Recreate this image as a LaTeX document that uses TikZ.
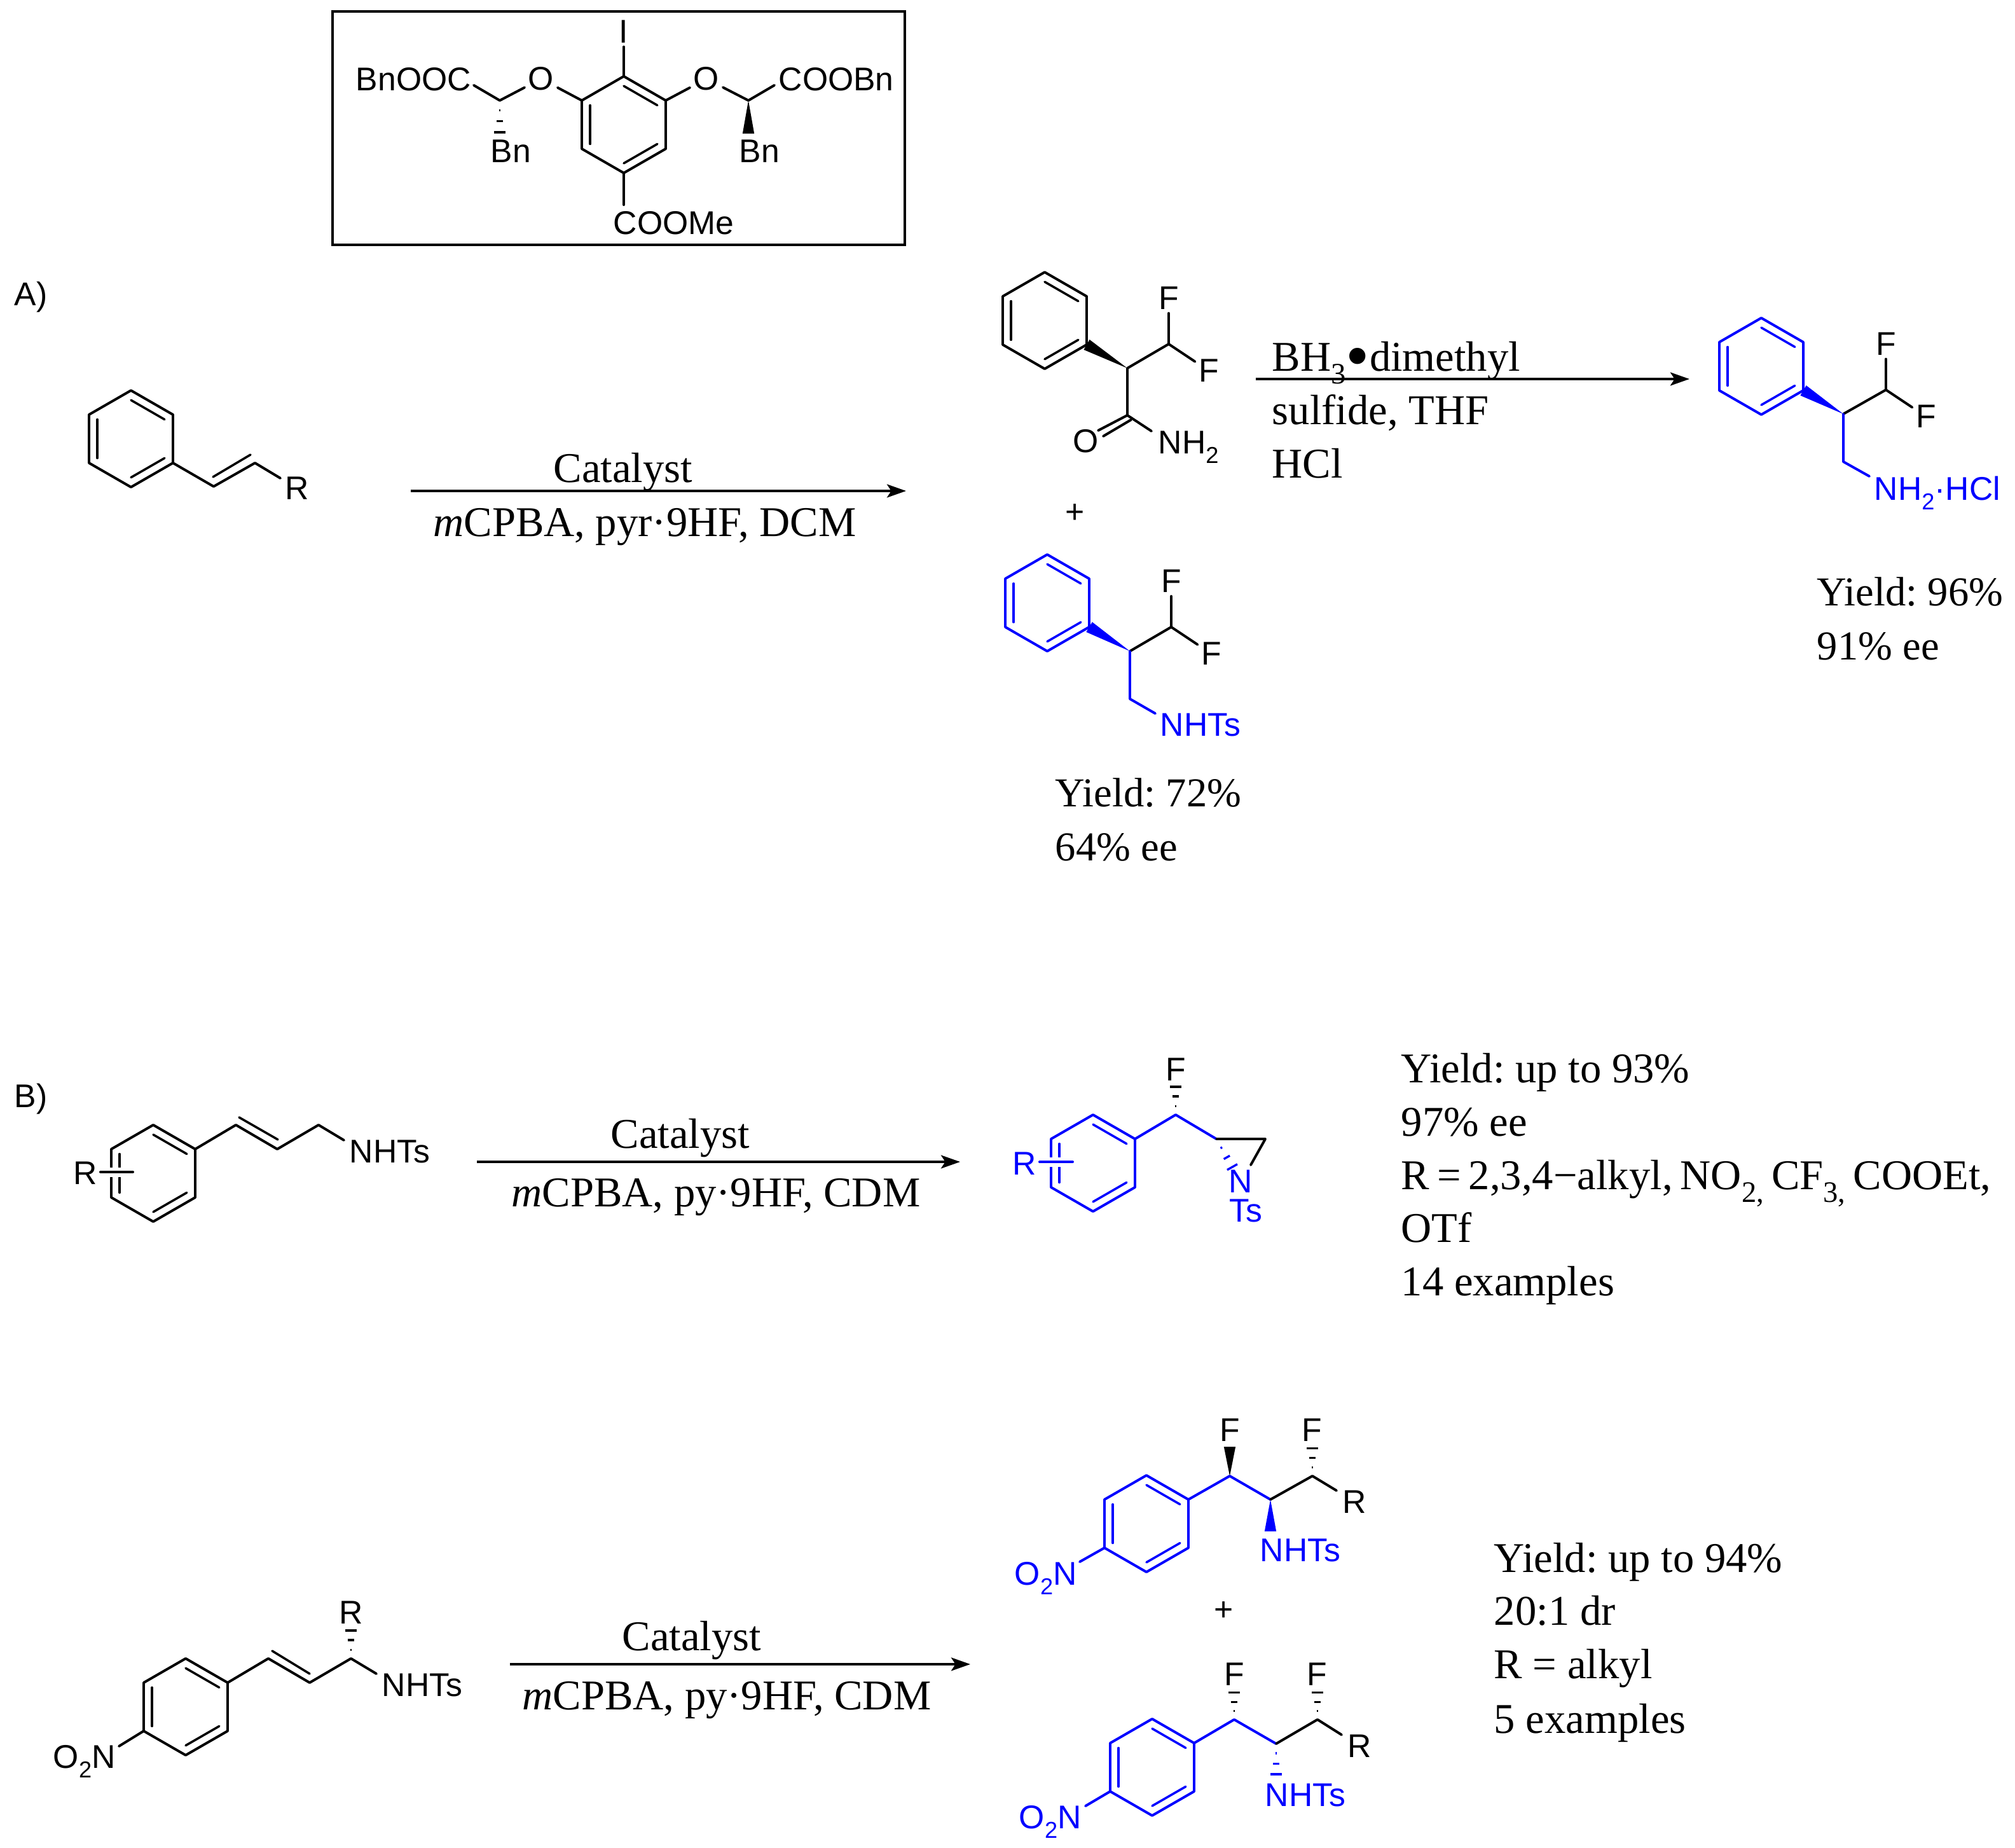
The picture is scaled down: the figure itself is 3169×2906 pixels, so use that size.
\documentclass[tikz,border=0pt]{standalone}
\usepackage{fontspec}
\setmainfont{Liberation Serif}
\setsansfont{Liberation Sans}
\usetikzlibrary{calc,arrows.meta}
\frenchspacing
\tikzset{
  bond/.style = {line width=.95pt, line join=round, line cap=round},
  inbond/.style = {line width=.85pt, line cap=round},
  atom/.style = {font=\sffamily\fontsize{12.4}{14}\selectfont, inner sep=1.2pt},
  atomtext/.style = {atom, inner sep=0pt, anchor=base west},
  rtext/.style = {font=\fontsize{16}{18}\selectfont, inner sep=0pt, anchor=base west},
  rshort/.style = {rtext, font=\fontsize{15.5}{18}\selectfont},
  rcenter/.style = {rtext, anchor=base},
  rxnarrow/.style = {line width=.95pt, -{Stealth[length=7.2pt, width=5pt, inset=1.6pt]}},
  sidetag/.style = {font=\sffamily\fontsize{12.4}{14}\selectfont, inner sep=0pt, anchor=base west}
}
\newcommand{\lowsub}[1]{\raisebox{-.3em}{\scalebox{.7}{#1}}}
\newcommand{\bigdot}{\raisebox{-.18em}{\scalebox{1.6}{•}}}
\newcommand{\phring}[4][black]{
  \coordinate (#2c) at (#3,#4);
  \foreach \idx/\dx/\dy in {1/0/-76, 2/66/-38, 3/66/38, 4/0/76, 5/-66/38, 6/-66/-38}
    \coordinate (#2\idx) at (#3+\dx,#4+\dy);
  \draw [bond, #1] (#21) -- (#22) -- (#23) -- (#24) -- (#25) -- (#26) -- cycle;
  \draw [inbond, #1] ($(#21)!.2!(#2c)$) -- ($(#22)!.2!(#2c)$);
  \draw [inbond, #1] ($(#23)!.2!(#2c)$) -- ($(#24)!.2!(#2c)$);
  \draw [inbond, #1] ($(#25)!.2!(#2c)$) -- ($(#26)!.2!(#2c)$);
}
\newcommand{\wedgebond}[3][black]{
  \fill [#1] (#2) -- ($(#3)!2.2pt!90:(#2)$) -- ($(#3)!2.2pt!-90:(#2)$) -- cycle;
}
\newcommand{\hashbond}[3][black]{
  \foreach \pos/\half in {.3/.35pt, .63/1.3pt, .96/2.2pt}
    \draw [#1, line width=.8pt] ($(#2)!\pos!(#3)!\half!90:(#3)$) -- ($(#2)!\pos!(#3)!\half!-90:(#3)$);
}
\begin{document}
\begin{tikzpicture}[x=.24pt, y=-.24pt]
\useasboundingbox (0,0) rectangle (3169,2906);

\draw [line width=1pt] (523,18) rectangle (1423,385);
\phring{cat}{981}{196}
\node [atom] (iod) at (981,50) {I};
\node [atom] (ol) at (851,124) {O};
\node [atom] (or) at (1111,124) {O};
\node [atomtext] (bnooc) at (559,142) {BnOOC};
\node [atomtext] (coobn) at (1224,142) {COOBn};
\node [atomtext] (bnl) at (771,255) {Bn};
\node [atomtext] (bnr) at (1162,255) {Bn};
\node [atomtext] (coome) at (964,368) {COOMe};
\coordinate (chl) at (786,158);
\coordinate (chr) at (1177,158);
\coordinate (endl) at (745,134);
\coordinate (endr) at (1218,134);
\coordinate (hashl) at (786,210);
\coordinate (wedger) at (1177,210);
\coordinate (endm) at (981,322);
\draw [bond] (cat1) -- (iod);
\draw [bond] (cat6) -- (ol);
\draw [bond] (cat2) -- (or);
\draw [bond] (ol) -- (chl) -- (endl);
\draw [bond] (or) -- (chr) -- (endr);
\draw [bond] (cat4) -- (endm);
\hashbond{chl}{hashl}
\wedgebond{chr}{wedger}

\node [sidetag] (taga) at (22,480) {A)};
\node [sidetag] (tagb) at (22,1741) {B)};

\phring{sty}{206}{690}
\coordinate (va) at (336,765);
\coordinate (vb) at (401,728);
\coordinate (vc) at (335,750);
\coordinate (vd) at (394,715);
\coordinate (ve) at (441,752);
\node [atom, inner sep=0pt] (rsty) at (467,768) {R};
\draw [bond] (sty3) -- (va) -- (vb) -- (ve);
\draw [inbond] (vc) -- (vd);

\coordinate (ara) at (646,772);
\coordinate (arb) at (1425,772);
\draw [rxnarrow] (ara) -- (arb);
\node [rcenter] (cata) at (980,758) {Catalyst};
\node [rcenter] (reaga) at (1014,843) {\textit{m}CPBA, pyr·9HF, DCM};

\phring{pa}{1643}{504}
\coordinate (pas) at (1773,579);
\coordinate (pac) at (1838,541);
\coordinate (pad) at (1773,653);
\coordinate (pao) at (1727,677);
\coordinate (pap) at (1779,660);
\coordinate (paq) at (1735,686);
\coordinate (pan) at (1811,678);
\node [atom] (pf1) at (1838,469) {F};
\node [atom] (pf2) at (1901,583) {F};
\node [atom, inner sep=0pt] (poxy) at (1708,694) {O};
\node [atomtext] (pnh) at (1821,713) {NH\lowsub{2}};
\wedgebond{pas}{pa3}
\draw [bond] (pas) -- (pac);
\draw [bond] (pac) -- (pf1);
\draw [bond] (pac) -- (pf2);
\draw [bond] (pas) -- (pad) -- (pan);
\draw [bond] (pad) -- (pao);
\draw [bond] (pap) -- (paq);
\node [atom] (pplus) at (1691,808) {+};

\phring[blue]{pb}{1647}{948}
\coordinate (pbs) at (1777,1024);
\coordinate (pbc) at (1842,986);
\coordinate (pbd) at (1777,1099);
\coordinate (pbe) at (1817,1122);
\node [atom] (pbf1) at (1842,914) {F};
\node [atom] (pbf2) at (1905,1028) {F};
\node [atomtext, blue] (pbn) at (1824,1157) {NHTs};
\wedgebond[blue]{pbs}{pb3}
\draw [bond] (pbs) -- (pbc);
\draw [bond] (pbc) -- (pbf1);
\draw [bond] (pbc) -- (pbf2);
\draw [bond, blue] (pbs) -- (pbd) -- (pbe);
\node [rshort] (ya) at (1659,1268) {Yield: 72\%};
\node [rshort] (ea) at (1659,1353) {64\% ee};

\coordinate (arc) at (1975,596);
\coordinate (ard) at (2657,596);
\draw [rxnarrow] (arc) -- (ard);
\node [rtext] (bha) at (2000,583) {BH\lowsub{3}\bigdot dimethyl};
\node [rtext] (bhb) at (2000,667) {sulfide, THF};
\node [rtext] (bhc) at (2000,751) {HCl};

\phring[blue]{pc}{2770}{576}
\coordinate (pcs) at (2899,651);
\coordinate (pcc) at (2966,613);
\coordinate (pcd) at (2899,726);
\coordinate (pce) at (2940,749);
\node [atom] (pcf1) at (2966,541) {F};
\node [atom] (pcf2) at (3029,655) {F};
\node [atomtext, blue] (pcn) at (2947,786) {NH\lowsub{2}·HCl};
\wedgebond[blue]{pcs}{pc3}
\draw [bond] (pcs) -- (pcc);
\draw [bond] (pcc) -- (pcf1);
\draw [bond] (pcc) -- (pcf2);
\draw [bond, blue] (pcs) -- (pcd) -- (pce);
\node [rshort] (yb) at (2857,952) {Yield: 96\%};
\node [rshort] (eb) at (2857,1037) {91\% ee};

\phring{sb}{241}{1845}
\coordinate (sba) at (371,1769);
\coordinate (sbb) at (436,1807);
\coordinate (sbc) at (501,1769);
\coordinate (sbd) at (541,1793);
\coordinate (sbe) at (376,1757);
\coordinate (sbf) at (437,1792);
\coordinate (sbg) at (158,1843);
\coordinate (sbh) at (209,1843);
\draw [line width=3.6pt, white] (sbg) -- (sbh);
\draw [bond] (sbg) -- (sbh);
\draw [bond] (sb2) -- (sba) -- (sbb) -- (sbc) -- (sbd);
\draw [inbond] (sbe) -- (sbf);
\node [atomtext] (sbn) at (549,1828) {NHTs};
\node [atom, inner sep=0pt] (sbr) at (134,1845) {R};

\coordinate (are) at (750,1827);
\coordinate (arf) at (1510,1827);
\draw [rxnarrow] (are) -- (arf);
\node [rcenter] (catb) at (1070,1805) {Catalyst};
\node [rcenter] (reagb) at (1126,1897) {\textit{m}CPBA, py·9HF, CDM};

\phring[blue]{az}{1719}{1829}
\coordinate (aza) at (1849,1753);
\coordinate (azb) at (1913,1791);
\coordinate (azc) at (1990,1791);
\coordinate (azd) at (1967,1832);
\coordinate (aze) at (1939,1837);
\coordinate (azf) at (1849,1707);
\coordinate (azg) at (1635,1827);
\coordinate (azh) at (1687,1827);
\draw [line width=3.6pt, white] (azg) -- (azh);
\draw [bond, blue] (azg) -- (azh);
\draw [bond, blue] (az2) -- (aza) -- (azb);
\draw [bond] (azb) -- (azc) -- (azd);
\hashbond{aza}{azf}
\hashbond[blue]{azb}{aze}
\node [atom, inner sep=0pt] (azfl) at (1849,1682) {F};
\node [atom, inner sep=0pt, blue] (azr) at (1611,1830) {R};
\node [atom, inner sep=0pt, blue] (azn) at (1951,1858) {N};
\node [atomtext, blue] (azt) at (1933,1921) {Ts};

\node [rtext] (yc) at (2203,1702) {Yield: up to 93\%};
\node [rtext] (ec) at (2203,1786) {97\% ee};
\node [rtext] (rc) at (2203,1870) {\spaceskip=.18em R = 2,3,4−alkyl, NO\lowsub{2,} CF\lowsub{3,} COOEt,};
\node [rtext] (oc) at (2203,1953) {OTf};
\node [rtext] (nc) at (2203,2037) {14 examples};

\phring{sc}{292}{2684}
\coordinate (sca) at (422,2608);
\coordinate (scb) at (487,2646);
\coordinate (scc) at (552,2608);
\coordinate (scd) at (592,2632);
\coordinate (sce) at (428,2596);
\coordinate (scf) at (487,2632);
\coordinate (scg) at (552,2562);
\coordinate (sch) at (187,2746);
\draw [bond] (sc2) -- (sca) -- (scb) -- (scc) -- (scd);
\draw [inbond] (sce) -- (scf);
\draw [bond] (sc5) -- (sch);
\hashbond{scc}{scg}
\node [atom, inner sep=0pt] (scr) at (552,2536) {R};
\node [atomtext] (scn) at (600,2667) {NHTs};
\node [atomtext] (sco) at (83,2780) {O\lowsub{2}N};

\coordinate (arg) at (802,2617);
\coordinate (arh) at (1526,2617);
\draw [rxnarrow] (arg) -- (arh);
\node [rcenter] (catc) at (1088,2595) {Catalyst};
\node [rcenter] (reagc) at (1143,2688) {\textit{m}CPBA, py·9HF, CDM};

\phring[blue]{pd}{1803}{2396}
\coordinate (pda) at (1934,2321);
\coordinate (pdb) at (1998,2358);
\coordinate (pdc) at (2064,2321);
\coordinate (pdd) at (2102,2344);
\coordinate (pde) at (1934,2275);
\coordinate (pdf) at (2064,2276);
\coordinate (pdg) at (1998,2408);
\coordinate (pdh) at (1698,2456);
\draw [bond, blue] (pd2) -- (pda) -- (pdb);
\draw [bond] (pdb) -- (pdc) -- (pdd);
\draw [bond, blue] (pd5) -- (pdh);
\wedgebond{pda}{pde}
\hashbond{pdc}{pdf}
\wedgebond[blue]{pdb}{pdg}
\node [atom, inner sep=0pt] (pdf1) at (1934,2249) {F};
\node [atom, inner sep=0pt] (pdf2) at (2063,2249) {F};
\node [atom, inner sep=0pt] (pdr) at (2130,2362) {R};
\node [atomtext, blue] (pdn) at (1981,2455) {NHTs};
\node [atomtext, blue] (pdo) at (1595,2492) {O\lowsub{2}N};
\node [atom] (pdplus) at (1925,2534) {+};

\phring[blue]{pe}{1812}{2779}
\coordinate (pea) at (1941,2704);
\coordinate (peb) at (2007,2742);
\coordinate (pec) at (2072,2704);
\coordinate (ped) at (2110,2728);
\coordinate (pee) at (1941,2660);
\coordinate (pef) at (2072,2660);
\coordinate (peg) at (2007,2792);
\coordinate (peh) at (1707,2840);
\draw [bond, blue] (pe2) -- (pea) -- (peb);
\draw [bond] (peb) -- (pec) -- (ped);
\draw [bond, blue] (pe5) -- (peh);
\hashbond{pea}{pee}
\hashbond{pec}{pef}
\hashbond[blue]{peb}{peg}
\node [atom, inner sep=0pt] (pef1) at (1941,2633) {F};
\node [atom, inner sep=0pt] (pef2) at (2071,2633) {F};
\node [atom, inner sep=0pt] (per) at (2138,2746) {R};
\node [atomtext, blue] (pen) at (1989,2840) {NHTs};
\node [atomtext, blue] (peo) at (1602,2875) {O\lowsub{2}N};

\node [rtext] (yd) at (2349,2472) {Yield: up to 94\%};
\node [rtext] (ed) at (2349,2555) {20:1 dr};
\node [rtext] (rd) at (2349,2639) {R = alkyl};
\node [rtext] (nd) at (2349,2725) {5 examples};
\end{tikzpicture}
\end{document}
